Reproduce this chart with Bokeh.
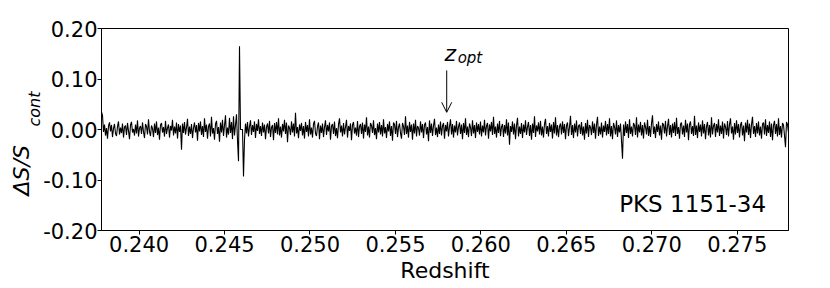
import numpy as np
from bokeh.plotting import figure
from bokeh.models import (Range1d, FixedTicker, PrintfTickFormatter, Label, Arrow, OpenHead,
                          ColumnDataSource, Title)
from bokeh.embed import file_html
from bokeh.resources import INLINE

# ---------------- data ----------------
z_first = 0.23780   # redshift of first channel
z_last = 0.27800    # redshift of last channel
# Delta S / S_cont, in units of 1e-3, read channel by channel from the picture
dS_milli = [
    35, 28, -5, 10, -12, 3, -18, 7, 14, -4, 9, -15, 2, 11, -8, -13, 6, 16, -10, 4,
    -7, 12, -16, 5, 8, -11, 13, -3, -19, 9, 15, -6, 1, -12, 10, -8, 18, -14, 3, 7,
    -9, 14, -5, -17, 11, 6, -10, 20, -4, -13, 8, 2, -15, 12, -7, 16, -11, 4, -20, 9,
    13, -6, 5, -14, 17, -9, 3, 10, -16, 7, -2, 19, -12, 6, -8, 14, -18, 11, -5, 8,
    -40, 12, -7, 15, -10, 4, 21, -13, 6, -9, 11, -17, 3, 14, -6, 9, -22, 13, -4, 16,
    -11, 7, -15, 22, -5, 10, -18, 6, 12, -14, 25, -8, 3, -20, 11, 17, -9, 5, -24, 14,
    -6, 19, -13, 8, 28, -16, 4, -10, 23, -7, 15, -19, 26, -12, 9, 30, -22, -63, 165, 0,
    0, 0, -93, -20, 12, -8, 15, -14, 6, 18, -11, 9, -5, 16, -17, 11, -3, 20, -9, 7,
    -13, 14, -6, 10, -19, 5, 12, -8, 17, -15, 4, 9, -21, 13, -7, 15, -10, 22, -12, 6,
    -16, 11, -4, 19, -9, 14, -25, 8, 3, -11, 16, -6, 12, -14, 33, -8, 5, -17, 10, -3,
    13, -12, 7, -18, 15, -5, 9, -14, 20, -10, 4, -16, 11, 17, -8, -13, 6, 14, -19, 8,
    -7, 12, -15, 5, 18, -11, 9, -4, 14, -20, 7, 11, -9, 16, -13, 3, -17, 10, 22, -6,
    8, -14, 13, -10, 5, 19, -16, 7, -3, 12, -21, 9, 15, -8, 4, -12, 17, -15, 6, 11,
    -9, 14, -18, 10, -5, 24, -12, 6, -16, 13, 8, -7, 18, -11, 3, -19, 12, -6, 15, -10,
    9, -14, 20, -8, 5, -17, 11, -4, 16, -13, 7, -22, 14, 10, -9, 17, -15, 4, 12, -7,
    -18, 13, 6, -11, 26, -9, 8, -16, 15, -5, 10, -20, 12, -8, 19, -14, 7, 3, -12, 16,
    -6, 11, -17, 9, 14, -10, 5, -23, 18, -7, 12, -13, 8, 21, -11, 4, -15, 10, -9, 16,
    -12, 7, 13, -18, 9, -4, 15, -14, 6, 20, -10, 11, -16, 8, -6, 17, -12, 5, 14, -9,
    10, -19, 13, -7, 22, -11, 6, -15, 12, 4, -13, 18, -8, 9, -17, 14, -5, 11, -10, 16,
    -14, 8, -6, 19, -12, 7, 13, -18, 10, -4, 15, -11, 25, -9, 6, -16, 12, -7, 17, -13,
    5, 11, -15, 9, -8, 20, -12, 14, -30, 7, -5, 16, -10, 12, -19, 8, 23, -14, 6, -9,
    13, -17, 10, -6, 18, -11, 5, 15, -13, 9, -20, 12, -7, 26, -15, 8, -4, 14, -10, 17,
    -12, 6, -16, 11, 21, -9, 7, -14, 13, -5, 10, -18, 15, -8, 24, -12, 9, -15, 6, 12,
    -10, 16, -7, 11, -19, 8, 14, -13, 5, 27, -11, 9, -17, 12, -6, 18, -14, 7, 10, -9,
    15, -12, 6, -20, 13, -8, 19, -15, 9, 4, -11, 16, -7, 12, -18, 10, 25, -13, 6, -10,
    14, -16, 8, -5, 17, -12, 11, -9, 22, -14, 7, -19, 13, 5, -10, 18, -15, 9, -6, 12,
    -22, -58, 10, -13, 16, -7, 11, -17, 20, -9, 6, -14, 13, 8, -11, 24, -16, 10, -6, 15,
    -12, 9, -18, 14, 5, -10, 19, -13, 7, -15, 12, 28, -9, 6, -17, 11, -5, 16, -12, 8,
    -20, 13, 10, -8, 17, -14, 6, 21, -11, 9, -16, 12, -7, 15, -13, 23, -9, 5, -18, 11,
    14, -10, 8, -15, 19, -6, 12, -21, 10, 16, -9, 7, -13, 27, -11, 8, -17, 14, -5, 10,
    -14, 18, -8, 11, -19, 6, 15, -12, 9, -16, 24, -10, 7, 13, -15, 11, -6, 20, -13, 8,
    -9, 16, -18, 12, 5, -11, 17, -14, 10, 22, -8, 6, -20, 13, -10, 18, -7, 11, -16, 9,
    15, -12, 8, -23, 14, -6, 19, -11, 12, -17, 10, 25, -9, 7, -15, 13, -8, 16, -12, 6,
    -18, 11, 14, -10, 20, -13, 9, -7, 16, -15, 12, -21, 8, 17, -9, 11, -14, 22, -11, 7,
    -16, 13, 9, -12, -35, 15, 10, -6,
]
x_ticks = [0.240, 0.245, 0.250, 0.255, 0.260, 0.265, 0.270, 0.275]
y_ticks = [-0.20, -0.10, 0.00, 0.10, 0.20]
z_opt = 0.258
source_name = "PKS 1151-34"

redshift = np.linspace(z_first, z_last, len(dS_milli))
dS = np.array(dS_milli) / 1000.0

FONT = "DejaVu Sans"
FS = "21px"

p = figure(width=830, height=288, output_backend="svg", toolbar_location=None,
           x_range=Range1d(z_first, z_last), y_range=Range1d(-0.2, 0.2),
           min_border_left=101, min_border_right=42, min_border_top=28, min_border_bottom=58)
p.grid.visible = False
p.outline_line_color = "black"
p.outline_line_width = 1
p.background_fill_color = "white"
p.border_fill_color = "white"

src = ColumnDataSource(dict(z=redshift, d=dS))
p.line("z", "d", source=src, line_color="black", line_width=1.1)

xa = p.xaxis[0]
xa.ticker = FixedTicker(ticks=x_ticks)
xa.formatter = PrintfTickFormatter(format="%.3f")
xa.axis_label = "Redshift"
xa.axis_label_text_font = FONT
xa.axis_label_text_font_size = "22px"
xa.axis_label_text_font_style = "normal"
xa.axis_label_text_color = "black"
xa.axis_label_standoff = 3

ya = p.yaxis[0]
ya.ticker = FixedTicker(ticks=y_ticks)
ya.formatter = PrintfTickFormatter(format="%.2f")

for ax in (xa, ya):
    ax.major_label_text_font = FONT
    ax.major_label_text_font_size = FS
    ax.major_label_text_color = "black"
    ax.axis_line_color = "black"
    ax.major_tick_line_color = "black"
    ax.minor_tick_line_color = None
    ax.major_tick_out = 4
    ax.major_tick_in = 0
xa.major_label_standoff = 1
ya.major_label_standoff = 0

# y-axis label  "Delta S / S_cont" : subscript next to the axis, main part outside
p.add_layout(Title(text="cont", align="left", offset=104, standoff=-6,
                   text_font=FONT, text_font_size="16px", text_font_style="italic",
                   text_color="black"), "left")
p.add_layout(Title(text="ΔS/S", align="left", offset=35, standoff=-16,
                   text_font=FONT, text_font_size="22px", text_font_style="italic",
                   text_color="black"), "left")

# z_opt arrow and label
p.add_layout(Arrow(x_start=z_opt, y_start=0.117, x_end=z_opt, y_end=0.034,
                   line_color="black", line_width=1,
                   end=OpenHead(size=10, line_color="black", line_width=1)))
p.add_layout(Label(x=0.25787, y=0.150, text="z", text_font=FONT, text_font_size="22px",
                   text_font_style="italic", text_align="left", text_baseline="alphabetic",
                   text_color="black"))
p.add_layout(Label(x=0.25864, y=0.1417, text="opt", text_font=FONT, text_font_size="15px",
                   text_font_style="italic", text_align="left", text_baseline="alphabetic",
                   text_color="black"))

p.add_layout(Label(x=0.26809, y=-0.148, text=source_name, text_font=FONT, text_font_size="23px",
                   text_align="left", text_baseline="alphabetic", text_color="black"))

open("out.html", "w").write(file_html(p, INLINE))
